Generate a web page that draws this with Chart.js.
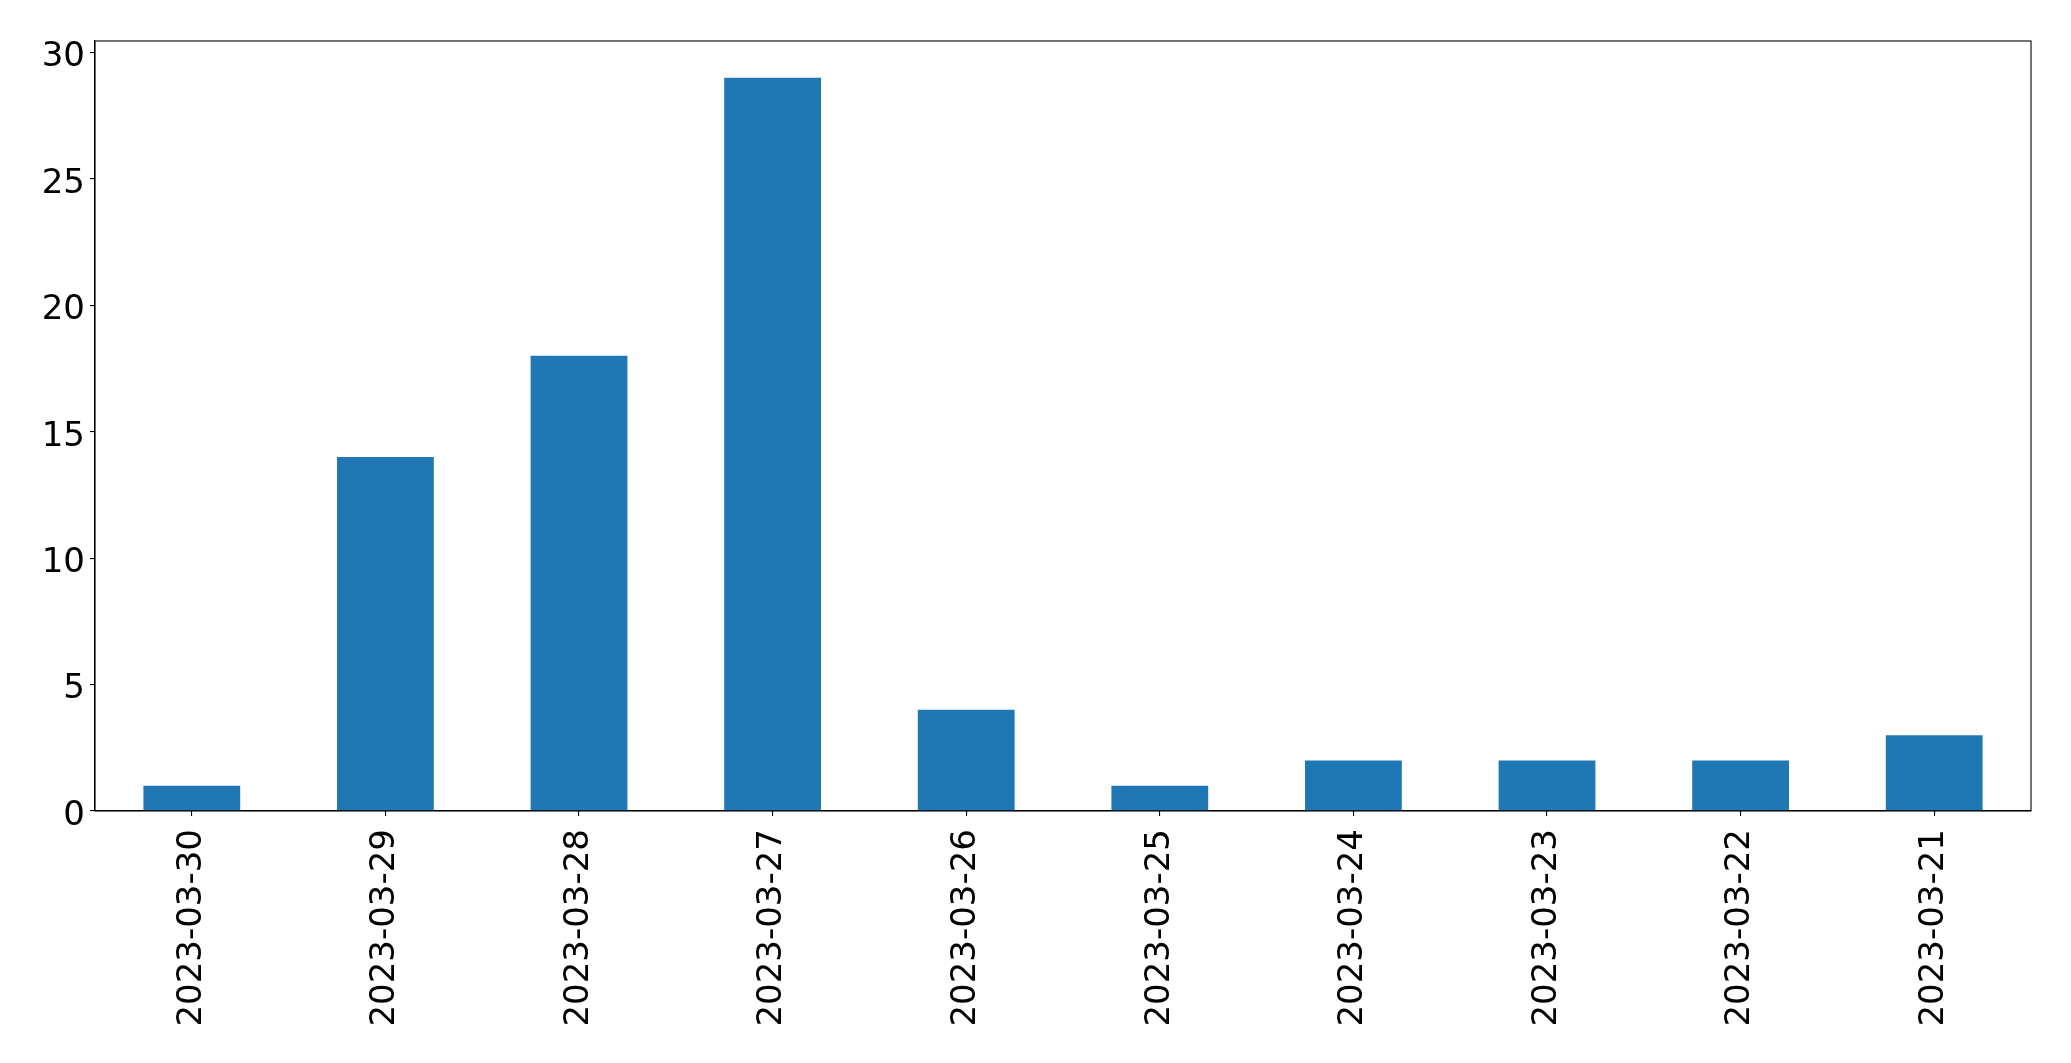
<!DOCTYPE html>
<html lang="en">
<head>
    <meta charset="UTF-8">
    <title>Daily counts</title>
    <script src="https://cdn.jsdelivr.net/npm/chart.js"></script>
    <style>
        body { margin: 0; background: #fff; }
    </style>
</head>
<body>
    <canvas id="dailyChart" width="2071" height="1063"></canvas>

    <script>
        // data
        const dates = ['2023-03-30', '2023-03-29', '2023-03-28', '2023-03-27', '2023-03-26',
                       '2023-03-25', '2023-03-24', '2023-03-23', '2023-03-22', '2023-03-21'];
        const counts = [1, 14, 18, 29, 4, 1, 2, 2, 2, 3];
        const yMax = 30.45;
        const yStep = 5;

        // draws the top and right spines
        const frame = {
            id: 'frame',
            afterDraw(chart) {
                const a = chart.chartArea;
                const c = chart.ctx;
                c.save();
                c.strokeStyle = '#000';
                c.lineWidth = 1.1;
                c.strokeRect(a.left, a.top, a.right - a.left, a.bottom - a.top);
                c.restore();
            }
        };

        const ctx = document.getElementById('dailyChart').getContext('2d');
        new Chart(ctx, {
            type: 'bar',
            data: {
                labels: dates,
                datasets: [{
                    data: counts,
                    backgroundColor: '#1f77b4',
                    borderWidth: 0,
                    categoryPercentage: 0.5,
                    barPercentage: 1
                }]
            },
            options: {
                responsive: false,
                animation: false,
                layout: { padding: { top: 41, right: 40, left: 0, bottom: 0 } },
                plugins: {
                    legend: { display: false },
                    tooltip: { enabled: false }
                },
                scales: {
                    x: {
                        offset: true,
                        grid: { offset: false, drawOnChartArea: false, drawTicks: true, tickLength: 5, color: '#000', lineWidth: 1.1 },
                        border: { display: true, color: '#000', width: 1.1 },
                        ticks: {
                            minRotation: 90, maxRotation: 90, padding: 13,
                            color: '#000',
                            font: { family: 'DejaVu Sans', size: 34 }
                        },
                        afterFit(scale) { scale.height = 252; }
                    },
                    y: {
                        min: 0,
                        max: yMax,
                        grid: { drawOnChartArea: false, drawTicks: true, tickLength: 5, color: '#000', lineWidth: 1.1 },
                        border: { display: true, color: '#000', width: 1.1 },
                        ticks: {
                            stepSize: yStep, includeBounds: false, padding: 5,
                            color: '#000',
                            font: { family: 'DejaVu Sans', size: 34, lineHeight: 0.3 },
                            // empty first line nudges the number a little below its tick, as in the original
                            callback: (v) => ['', String(v)]
                        },
                        afterFit(scale) { scale.width = 95; }
                    }
                }
            },
            plugins: [frame]
        });
    </script>
</body>
</html>
